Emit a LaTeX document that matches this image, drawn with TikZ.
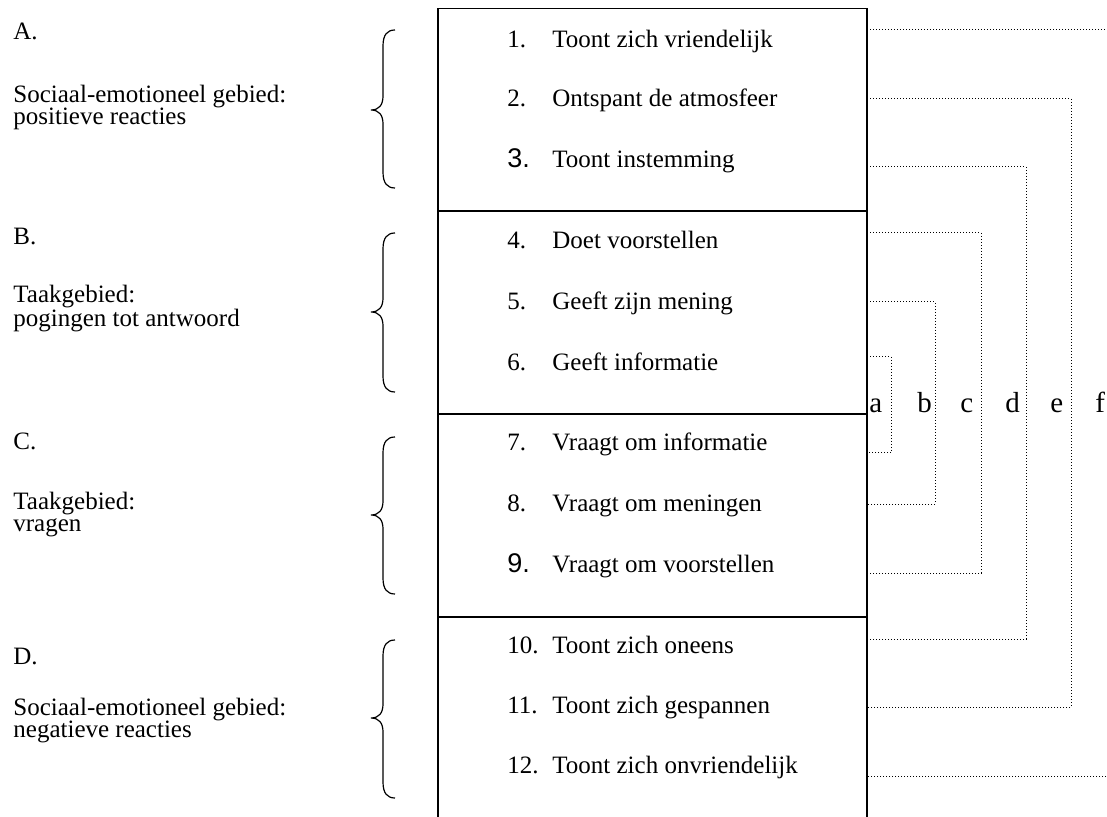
\documentclass[tikz,border=0pt]{standalone}
\usepackage{fontspec}
\setmainfont{Liberation Serif}
\newfontfamily\numfont{Liberation Sans}
\usetikzlibrary{positioning,calc}

% curly brace opening to the right: top, tip, bottom
\newcommand{\grpbrace}[3]{%
  \draw[brc] (395,#1) .. controls (387,#1) and (383,{#1+5}) .. (383,{#1+16})
    -- (383,{#2-14}) .. controls (383,{#2-5}) and (379,#2) .. (371,#2)
    .. controls (379,#2) and (383,{#2+5}) .. (383,{#2+14})
    -- (383,{#3-16}) .. controls (383,{#3-5}) and (387,#3) .. (395,#3);}

\begin{document}
\begin{tikzpicture}[
    x=0.5pt, y=-0.5pt,
    section/.style={draw, line width=0.9pt, minimum width=214.5pt,
                    minimum height=101.5pt, inner sep=0pt},
    item/.style={anchor=base west, inner sep=0pt, font=\fontsize{12.5}{14}\selectfont},
    bignum/.style={item, font=\numfont\fontsize{13.5}{15}\selectfont},
    lbl/.style={anchor=base west, inner sep=0pt, align=left,
                font=\fontsize{12.5}{11}\selectfont},
    tag/.style={anchor=base west, inner sep=0pt, font=\fontsize{14.5}{16}\selectfont},
    link/.style={densely dotted, line width=0.5pt},
    brc/.style={line width=0.6pt}
]
    \useasboundingbox (0,0) rectangle (1107,817);

    % the four sections of the box
    \node[section] (secA) at (652.5,110) {};
    \node[section] (secB) at (652.5,312.5) {};
    \node[section] (secC) at (652.5,515.5) {};
    \node[section] (secD) at (652.5,718.5) {};

    % A
    \node[lbl] (hA) at (13,40) {A.};
    \node[lbl] (dA) at (13,125) {Sociaal-emotioneel gebied:\\positieve reacties};
    \grpbrace{30}{110}{188}
    \node[item] (n1) at (507,48) {1.};
    \node[item] (t1) at (552,48) {Toont zich vriendelijk};
    \node[item] (n2) at (507,107) {2.};
    \node[item] (t2) at (552,107) {Ontspant de atmosfeer};
    \node[bignum] (n3) at (507,168) {3.};
    \node[item] (t3) at (552,168) {Toont instemming};

    % B
    \node[lbl] (hB) at (13,245) {B.};
    \node[lbl] (dB) at (13,327) {Taakgebied:\\pogingen tot antwoord};
    \grpbrace{233}{312}{392}
    \node[item] (n4) at (507,249) {4.};
    \node[item] (t4) at (552,249) {Doet voorstellen};
    \node[item] (n5) at (507,310) {5.};
    \node[item] (t5) at (552,310) {Geeft zijn mening};
    \node[item] (n6) at (507,371) {6.};
    \node[item] (t6) at (552,371) {Geeft informatie};

    % C
    \node[lbl] (hC) at (13,450) {C.};
    \node[lbl] (dC) at (13,531) {Taakgebied:\\vragen};
    \grpbrace{437}{515}{594}
    \node[item] (n7) at (507,451) {7.};
    \node[item] (t7) at (552,451) {Vraagt om informatie};
    \node[item] (n8) at (507,511) {8.};
    \node[item] (t8) at (552,511) {Vraagt om meningen};
    \node[bignum] (n9) at (507,572) {9.};
    \node[item] (t9) at (552,572) {Vraagt om voorstellen};

    % D
    \node[lbl] (hD) at (13,664) {D.};
    \node[lbl] (dD) at (13,737) {Sociaal-emotioneel gebied:\\negatieve reacties};
    \grpbrace{640}{718}{798}
    \node[item] (n10) at (507,653) {10.};
    \node[item] (t10) at (552,653) {Toont zich oneens};
    \node[item] (n11) at (507,713) {11.};
    \node[item] (t11) at (552,713) {Toont zich gespannen};
    \node[item] (n12) at (507,773) {12.};
    \node[item] (t12) at (552,773) {Toont zich onvriendelijk};

    % pair letters
    \node[tag] (a) at (869,413) {a};
    \node[tag] (b) at (917,413) {b};
    \node[tag] (c) at (960,413) {c};
    \node[tag] (d) at (1005,413) {d};
    \node[tag] (e) at (1050,413) {e};
    \node[tag] (f) at (1095,413) {f};

    % ends on the right edge of the box
    \coordinate (ua) at (867,357);  \coordinate (la) at (867,453);
    \coordinate (ub) at (867,302);  \coordinate (lb) at (867,504);
    \coordinate (uc) at (867,233);  \coordinate (lc) at (867,573);
    \coordinate (ud) at (867,167);  \coordinate (ld) at (867,639);
    \coordinate (ue) at (867,99);   \coordinate (le) at (867,707);
    \coordinate (uf) at (867,30);   \coordinate (lf) at (867,776);
    \coordinate (ka) at (891,453);
    \coordinate (kb) at (935,504);
    \coordinate (kc) at (981,573);
    \coordinate (kd) at (1026,639);
    \coordinate (ke) at (1071,707);
    \coordinate (kf) at (1125,776);

    % dotted pairings
    \draw[link] (ua) -| (ka) -- (la);
    \draw[link] (ub) -| (kb) -- (lb);
    \draw[link] (uc) -| (kc) -- (lc);
    \draw[link] (ud) -| (kd) -- (ld);
    \draw[link] (ue) -| (ke) -- (le);
    \draw[link] (uf) -| (kf) -- (lf);
\end{tikzpicture}
\end{document}
